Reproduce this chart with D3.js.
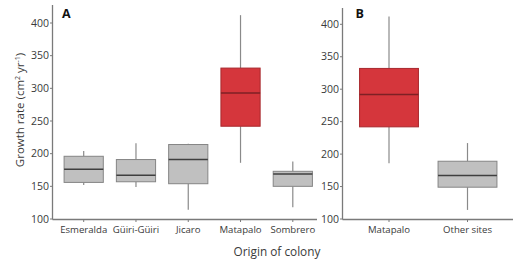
<!DOCTYPE html>
<html>
<head>
<meta charset="utf-8">
<script src="https://cdn.jsdelivr.net/npm/d3@7"></script>
<style>
  body { margin: 0; background: #fff; }
  text { font-family: "Open Sans", "Noto Sans", sans-serif; }
</style>
</head>
<body>
<div id="chart"></div>
<script>
// Panel A data: growth rate by origin of colony
const catsA = ["Esmeralda", "Güiri-Güiri", "Jicaro", "Matapalo", "Sombrero"];
const lowA  = [152, 149, 114, 186, 118];
const q1A   = [156, 157, 154, 242, 150];
const medA  = [176, 167, 191, 293, 169];
const q3A   = [196, 191, 214, 331, 173];
const highA = [204, 216, 215, 412, 188];

// Panel B data
const catsB = ["Matapalo", "Other sites"];
const lowB  = [186, 114];
const q1B   = [242, 149];
const medB  = [292, 167];
const q3B   = [332, 189];
const highB = [412, 217];

const yTicks = [100, 150, 200, 250, 300, 350, 400];

const width = 528, height = 265;
const svg = d3.select("#chart").append("svg")
    .attr("width", width)
    .attr("height", height);

svg.append("rect").attr("width", "100%").attr("height", "100%").attr("fill", "#fff");

const axisColor = "#7a7a7a";
const textColor = "#3a3a3a";

function panel(opt) {
    const g = svg.append("g");
    const y = d3.scaleLinear().domain([100, 400]).range([opt.y100, opt.y400]);
    const x = d3.scalePoint().domain(opt.cats).range(opt.xr);
    const step = opt.cats.length > 1 ? (opt.xr[1] - opt.xr[0]) / (opt.cats.length - 1) : 50;
    const bw = step * 0.75;

    // axis lines
    g.append("line")
        .attr("x1", opt.x0).attr("x2", opt.x0)
        .attr("y1", opt.yTop).attr("y2", opt.y100 + 0.5)
        .attr("stroke", axisColor).attr("stroke-width", 1.3);
    g.append("line")
        .attr("x1", opt.x0).attr("x2", opt.x1)
        .attr("y1", opt.y100 + 0.5).attr("y2", opt.y100 + 0.5)
        .attr("stroke", axisColor).attr("stroke-width", 1.3);

    // y ticks
    yTicks.forEach(function(t) {
        g.append("line")
            .attr("x1", opt.x0 - 2.5).attr("x2", opt.x0)
            .attr("y1", y(t)).attr("y2", y(t))
            .attr("stroke", axisColor).attr("stroke-width", 1);
        g.append("text")
            .attr("x", opt.x0 - 3.5).attr("y", y(t))
            .attr("dy", "0.35em")
            .attr("text-anchor", "end")
            .attr("font-size", 10.5)
            .attr("fill", textColor)
            .text(t);
    });

    // x ticks and labels
    opt.cats.forEach(function(c) {
        g.append("line")
            .attr("x1", x(c)).attr("x2", x(c))
            .attr("y1", opt.y100 + 0.5).attr("y2", opt.y100 + 3)
            .attr("stroke", axisColor).attr("stroke-width", 1);
        g.append("text")
            .attr("x", x(c)).attr("y", opt.y100 + 14)
            .attr("text-anchor", "middle")
            .attr("font-size", 9.6)
            .attr("fill", textColor)
            .text(c);
    });

    // boxes
    opt.cats.forEach(function(c, i) {
        const red = c === "Matapalo";
        const fill = red ? "#d5363c" : "#c0c0c0";
        const edge = red ? "#a8282d" : "#858585";
        const medCol = red ? "#7e2024" : "#3f3f3f";
        const cx = x(c);
        // whiskers
        g.append("line")
            .attr("x1", cx).attr("x2", cx)
            .attr("y1", y(opt.high[i])).attr("y2", y(opt.q3[i]))
            .attr("stroke", "#8a8a8a").attr("stroke-width", 1.2);
        g.append("line")
            .attr("x1", cx).attr("x2", cx)
            .attr("y1", y(opt.q1[i])).attr("y2", y(opt.low[i]))
            .attr("stroke", "#8a8a8a").attr("stroke-width", 1.2);
        g.append("rect")
            .attr("x", cx - bw / 2).attr("width", bw)
            .attr("y", y(opt.q3[i])).attr("height", y(opt.q1[i]) - y(opt.q3[i]))
            .attr("fill", fill).attr("stroke", edge).attr("stroke-width", 1);
        g.append("line")
            .attr("x1", cx - bw / 2).attr("x2", cx + bw / 2)
            .attr("y1", y(opt.med[i])).attr("y2", y(opt.med[i]))
            .attr("stroke", medCol).attr("stroke-width", 1.5);
    });

    // panel letter
    g.append("text")
        .attr("x", opt.letterX).attr("y", 18)
        .attr("font-size", 12.5)
        .attr("font-weight", 700)
        .attr("fill", "#111")
        .text(opt.letter);
}

panel({
    cats: catsA, low: lowA, q1: q1A, med: medA, q3: q3A, high: highA,
    x0: 52.5, x1: 317, xr: [83.7, 292.8], y100: 219, y400: 23, yTop: 5,
    letter: "A", letterX: 62
});

panel({
    cats: catsB, low: lowB, q1: q1B, med: medB, q3: q3B, high: highB,
    x0: 342.5, x1: 513, xr: [389, 467.5], y100: 219, y400: 24.3, yTop: 8,
    letter: "B", letterX: 355.5
});

// y axis title
svg.append("text")
    .attr("transform", "translate(24,110) rotate(-90)")
    .attr("text-anchor", "middle")
    .attr("font-size", 11.5)
    .attr("fill", textColor)
    .html('Growth rate (cm<tspan baseline-shift="super" font-size="7">2</tspan> yr<tspan baseline-shift="super" font-size="7">-1</tspan>)');

// x axis title
svg.append("text")
    .attr("x", 277).attr("y", 256)
    .attr("text-anchor", "middle")
    .attr("font-size", 11.8)
    .attr("fill", textColor)
    .text("Origin of colony");
</script>
</body>
</html>
